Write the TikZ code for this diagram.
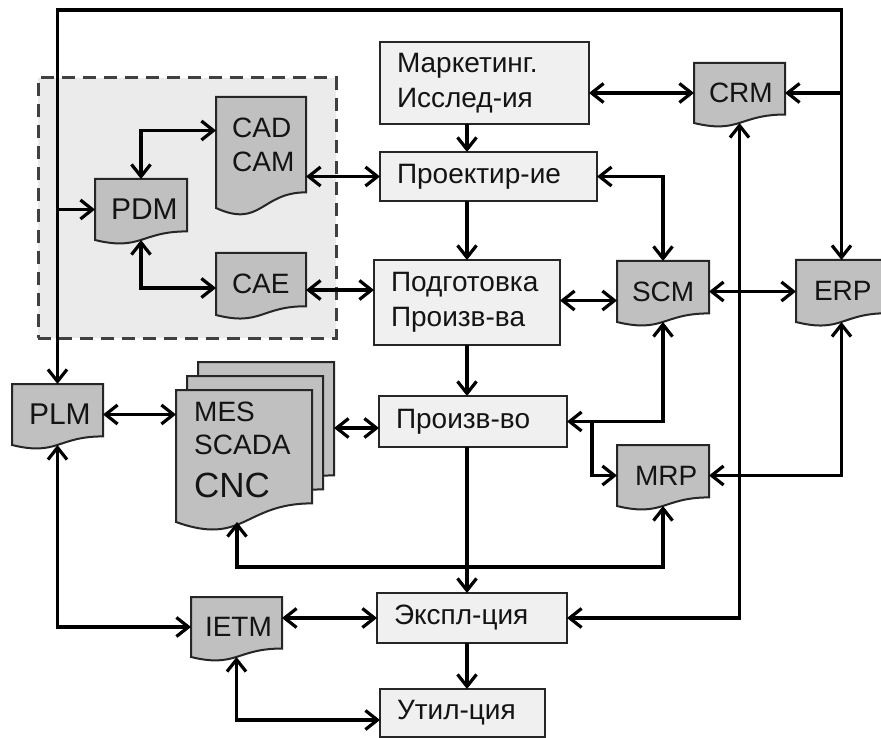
\documentclass[tikz,border=0pt]{standalone}
\usepackage{fontspec}
\setmainfont{Liberation Sans}
\usetikzlibrary{arrows.meta,calc}
\definecolor{lightfill}{HTML}{F0F0F0}
\definecolor{docfillc}{HTML}{C0C0C0}
\definecolor{framefill}{HTML}{EBEBEB}
\definecolor{framedash}{HTML}{404040}
\definecolor{txt}{HTML}{141414}
\pgfdeclarelayer{layerA}
\pgfdeclarelayer{layerB}
\pgfsetlayers{layerA,layerB,main}
\newcommand{\mydoc}[1]{%
\begin{pgfonlayer}{layerB}
\path[docpath] (#1.north west) -- (#1.north east) -- ($(#1.north east)!0.859!(#1.south east)$) .. controls ($(#1.north)!0.859!(#1.south)$) and ($(#1.north)!1.185!(#1.south)$) .. (#1.south west) -- cycle;
\end{pgfonlayer}}
\newcommand{\dtxt}[2]{\makebox[#1][l]{#2}}
\tikzset{
  lbox/.style={draw=black!85, line width=2pt, fill=lightfill, inner xsep=17pt, inner ysep=0pt, outer sep=0pt,
    align=left, text=txt, font=\fontsize{28}{35}\selectfont},
  docn/.style={inner sep=0pt, outer sep=0pt, text=txt, font=\fontsize{28}{32}\selectfont},
  docpath/.style={draw=black!85, line width=2pt, fill=docfillc},
  dtext/.style={anchor=base west, inner sep=0pt, text=txt, font=\fontsize{28}{32}\selectfont},
  frame/.style={draw=framedash, fill=framefill, line width=3pt, dash pattern=on 13pt off 8pt, inner sep=0pt},
  con/.style={line width=3.2pt, black},
  >={Straight Barb[length=12pt,width=19pt]}
}
\begin{document}
\begin{tikzpicture}[x=1pt,y=-1pt]
\clip (0,0) rectangle (881,738);
\begin{pgfonlayer}{layerA}
\fill[white] (0,0) rectangle (881,738);
\node[frame, minimum width=298pt, minimum height=260pt] (grp) at (187,208) {};
\end{pgfonlayer}

% light boxes
\node[lbox, minimum width=209pt, minimum height=82pt, text width=175pt] (mark) at (484.5,83) {Маркетинг.\\Исслед-ия};
\node[lbox, minimum width=217pt, minimum height=49pt, text width=183pt] (proj) at (488.5,176.5) {Проектир-ие};
\node[lbox, minimum width=186pt, minimum height=85pt, text width=152pt] (podg) at (467,302.5) {Подготовка\\Произв-ва};
\node[lbox, minimum width=188pt, minimum height=51pt, text width=154pt] (prod) at (473,421.5) {Произв-во};
\node[lbox, minimum width=190pt, minimum height=50pt, text width=156pt] (expl) at (472,618) {Экспл-ция};
\node[lbox, minimum width=165pt, minimum height=48pt, text width=131pt] (util) at (462.5,713) {Утил-ция};

% document shapes
\node[docn, minimum width=92pt, minimum height=61pt, font=\fontsize{30}{32}\selectfont] (pdm) at (141,209.5) {\dtxt{60pt}{PDM}};
\node[docn, minimum width=90pt, minimum height=111pt] (cad) at (261,152.5) {};
\node[docn, minimum width=90pt, minimum height=62pt] (cae) at (261,284) {\dtxt{58pt}{CAE}};
\node[docn, minimum width=91pt, minimum height=60pt] (crm) at (739.5,93) {\dtxt{61pt}{CRM}};
\node[docn, minimum width=92pt, minimum height=61pt] (scm) at (663,291.5) {\dtxt{62pt}{SCM}};
\node[docn, minimum width=91pt, minimum height=62pt] (erp) at (841.5,291) {\dtxt{55pt}{ERP}};
\node[docn, minimum width=92pt, minimum height=61pt] (mrp) at (663,475.5) {\dtxt{56pt}{MRP}};
\node[docn, minimum width=91pt, minimum height=61pt, font=\fontsize{30}{32}\selectfont] (plm) at (57.5,414.5) {\dtxt{57pt}{PLM}};
\node[docn, minimum width=91pt, minimum height=60pt] (ietm) at (236.5,627) {\dtxt{63pt}{IETM}};
\node[docn, minimum width=136pt, minimum height=132pt] (mes3) at (266,428) {};
\node[docn, minimum width=136pt, minimum height=132pt] (mes2) at (255,442) {};
\node[docn, minimum width=136pt, minimum height=132pt] (mes1) at (244,456) {};
\mydoc{pdm}\mydoc{cad}\mydoc{cae}\mydoc{crm}\mydoc{scm}\mydoc{erp}\mydoc{mrp}\mydoc{plm}\mydoc{ietm}
\mydoc{mes3}\mydoc{mes2}\mydoc{mes1}

\node[dtext] (cadt1) at (232,138) {CAD};
\node[dtext] (cadt2) at (232,172) {CAM};
\node[dtext] (mest1) at (194,421) {MES};
\node[dtext] (mest2) at (194,454) {SCADA};
\node[dtext, font=\fontsize{35}{38}\selectfont] (mest3) at (194,497) {CNC};

% connectors
\coordinate (topl) at (57.5,10);
\coordinate (junc) at (592,421.5);
\coordinate (bus) at (0,567);
\draw[con,<->] (plm.north) -- (plm.north |- topl) -- (erp.north |- topl) -- (erp.north);
\draw[con,->] (erp.north |- crm.east) -- (crm.east);
\draw[con,->] (plm.north |- pdm.west) -- (pdm.west);
\draw[con,<->] (pdm.north) |- ([yshift=22pt]cad.west);
\draw[con,<->] (pdm.south) |- ([yshift=-4pt]cae.west);
\draw[con,<->] (proj.west -| cad.east) -- (proj.west);
\draw[con,<->] ([yshift=-6pt]cae.east) -- ([yshift=-6pt]cae.east -| podg.west);
\draw[con,->] (podg.north |- mark.south) -- (podg.north |- proj.north);
\draw[con,->] (podg.north |- proj.south) -- (podg.north);
\draw[con,->] (podg.south) -- (podg.south |- prod.north);
\draw[con,<->] (crm.west -| mark.east) -- (crm.west);
\draw[con,<->] (proj.east) -| (scm.north);
\draw[con,<->] ([yshift=2pt]podg.east) -- ([yshift=2pt]podg.east -| scm.west);
\draw[con,<->] (scm.east) -- (scm.east -| erp.west);
\draw[con,<->] (crm.south) |- (expl.east);
\draw[con,<->] (scm.south) |- (prod.east);
\draw[con,->] (junc) |- (mrp.west);
\draw[con,<->] (erp.south) |- (mrp.east);
\draw[con,<->] ([xshift=-7pt]mes1.south) -- ([xshift=-7pt]mes1.south |- bus) -| (mrp.south);
\draw[con,<->] (plm.east) -- (plm.east -| mes1.west);
\draw[con,<->] (mes3.east) -- (mes3.east -| prod.west);
\draw[con,->] (podg.north |- prod.south) -- (podg.north |- expl.north);
\draw[con,->] (podg.north |- expl.south) -- (podg.north |- util.north);
\draw[con,<->] (plm.south) |- (ietm.west);
\draw[con,<->] (expl.west -| ietm.east) -- (expl.west);
\draw[con,<->] (ietm.south) |- ([yshift=-7pt]util.west);
\end{tikzpicture}
\end{document}
